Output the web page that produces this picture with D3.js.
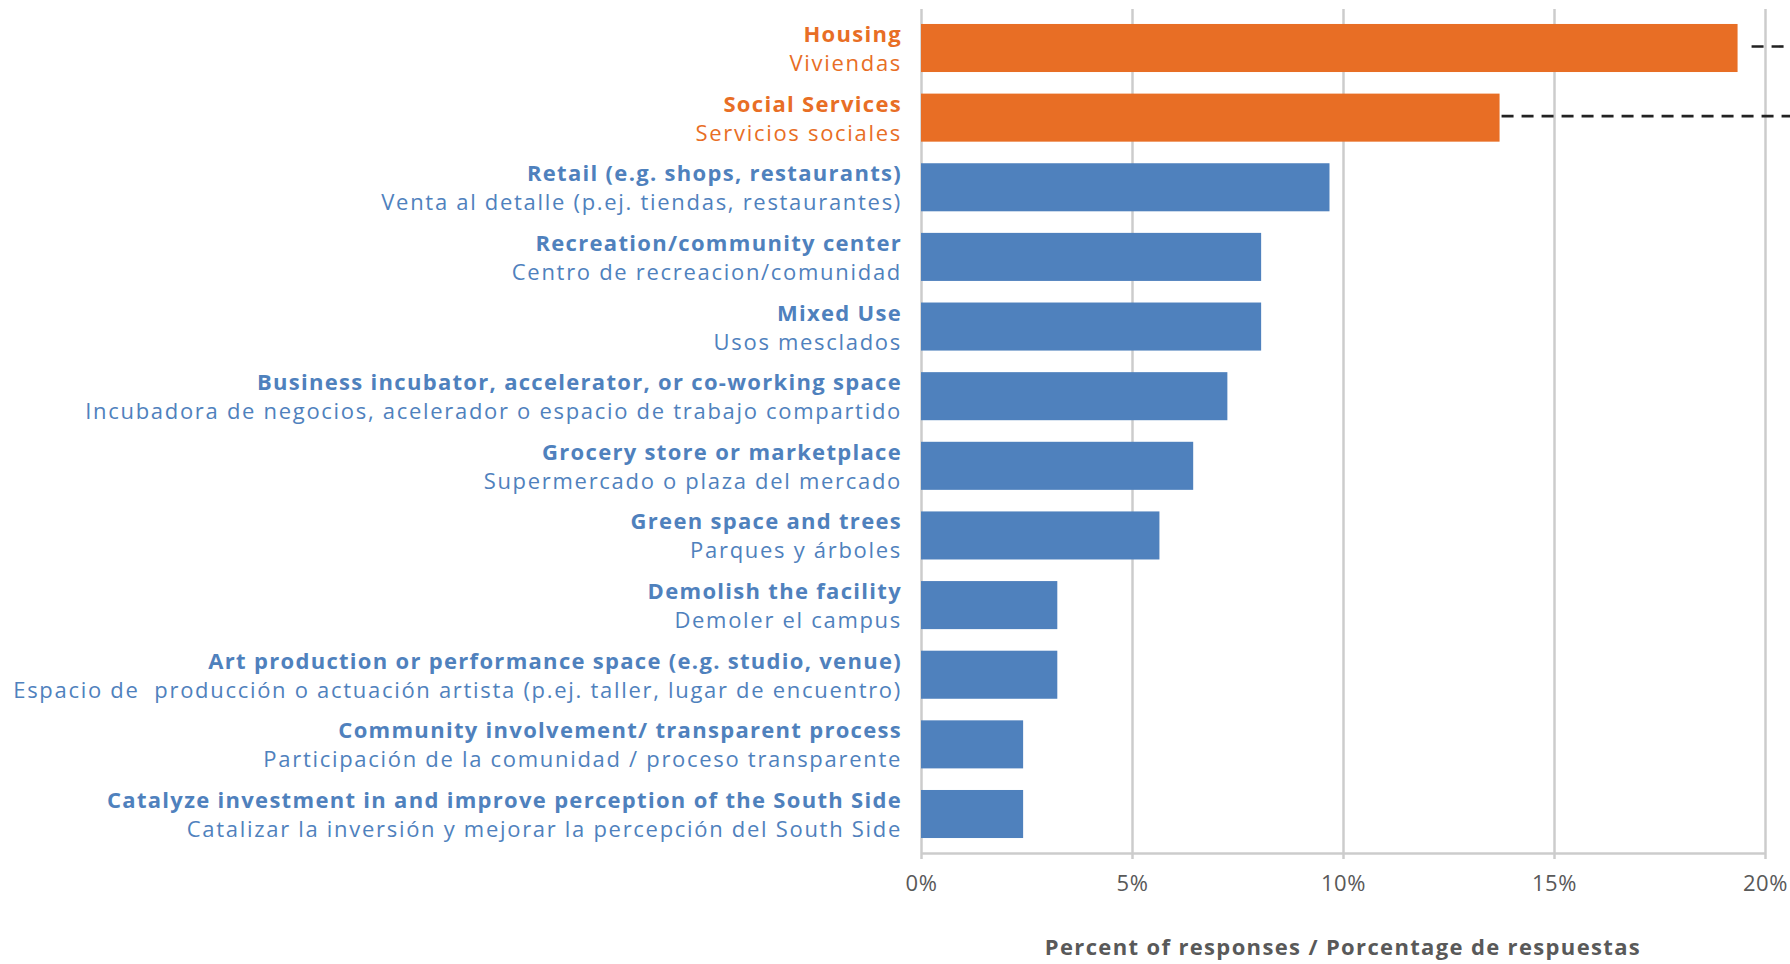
<!DOCTYPE html>
<html>
<head>
<meta charset="utf-8">
<script src="https://cdn.jsdelivr.net/npm/d3@7"></script>
<style>
  html, body { margin: 0; padding: 0; background: #fff; }
  svg { display: block; font-family: "Open Sans", sans-serif; }
  text { white-space: pre; }
</style>
</head>
<body>
<figure id="bar" style="margin:0"></figure>
<script>
// categories, English and Spanish
const labelsEn = [
  "Housing",
  "Social Services",
  "Retail (e.g. shops, restaurants)",
  "Recreation/community center",
  "Mixed Use",
  "Business incubator, accelerator, or co-working space",
  "Grocery store or marketplace",
  "Green space and trees",
  "Demolish the facility",
  "Art production or performance space (e.g. studio, venue)",
  "Community involvement/ transparent process",
  "Catalyze investment in and improve perception of the South Side"
];
const labelsEs = [
  "Viviendas",
  "Servicios sociales",
  "Venta al detalle (p.ej. tiendas, restaurantes)",
  "Centro de recreacion/comunidad",
  "Usos mesclados",
  "Incubadora de negocios, acelerador o espacio de trabajo compartido",
  "Supermercado o plaza del mercado",
  "Parques y árboles",
  "Demoler el campus",
  "Espacio de  producción o actuación artista (p.ej. taller, lugar de encuentro)",
  "Participación de la comunidad / proceso transparente",
  "Catalizar la inversión y mejorar la percepción del South Side"
];
// percent of responses
const values = [19.35, 13.71, 9.68, 8.06, 8.06, 7.26, 6.45, 5.65, 3.23, 3.23, 2.42, 2.42];
// top two are highlighted
const highlighted = [true, true, false, false, false, false, false, false, false, false, false, false];
const tickValues = [0, 5, 10, 15, 20];
const axisTitle = "Percent of responses / Porcentage de respuestas";

const width = 1790, height = 964;
const orange = "#e86e25", blue = "#4f81bd", grid = "#cccccc", gray = "#595959";
const plotTop = 9, plotBottom = 853;

const svg = d3.select("figure#bar").append("svg")
  .attr("width", width)
  .attr("height", height);

const x = d3.scaleLinear()
  .domain([0, 20])
  .range([921, 1765]);

const y = d3.scaleBand()
  .domain(d3.range(values.length))
  .range([plotTop, plotBottom])
  .paddingInner(0.31)
  .paddingOuter(0.215);

// vertical gridlines
svg.append("g")
  .attr("transform", "translate(0," + plotBottom + ")")
  .call(d3.axisBottom(x).tickValues(tickValues).tickSize(-(plotBottom - plotTop)).tickFormat(""))
  .call(g => g.select(".domain").remove())
  .call(g => g.selectAll("line").attr("stroke", grid).attr("stroke-width", 2.5));

// x axis
svg.append("g")
  .attr("transform", "translate(0," + plotBottom + ")")
  .call(d3.axisBottom(x).tickValues(tickValues).tickSize(6).tickSizeOuter(0).tickPadding(16).tickFormat(d => d + "%"))
  .call(g => g.select(".domain").attr("stroke", grid).attr("stroke-width", 2.5))
  .call(g => g.selectAll("line").attr("stroke", grid).attr("stroke-width", 2.5))
  .call(g => g.selectAll("text")
    .attr("fill", gray)
    .style("font-family", "'Open Sans', sans-serif")
    .style("font-size", "22px")
    .style("letter-spacing", "0.6px"));

// bars
svg.selectAll("rect.bar")
  .data(values)
  .enter()
  .append("rect")
  .attr("class", "bar")
  .attr("x", x(0))
  .attr("y", (d, i) => y(i))
  .attr("width", d => x(d) - x(0))
  .attr("height", y.bandwidth())
  .attr("fill", (d, i) => highlighted[i] ? orange : blue);

// dashed leaders off the highlighted bars
const leaderGap = [14, 2];
svg.selectAll("line.leader")
  .data(values.filter((d, i) => highlighted[i]))
  .enter()
  .append("line")
  .attr("class", "leader")
  .attr("x1", (d, i) => x(d) + leaderGap[i])
  .attr("x2", width)
  .attr("y1", (d, i) => y(i) + y.bandwidth() / 2 - 1.5)
  .attr("y2", (d, i) => y(i) + y.bandwidth() / 2 - 1.5)
  .attr("stroke", "#222")
  .attr("stroke-width", 2.6)
  .attr("stroke-dasharray", "12,8");

// two-line category labels
const labels = svg.selectAll("g.label")
  .data(values)
  .enter()
  .append("g")
  .attr("class", "label")
  .attr("transform", (d, i) => "translate(902," + (y(i) + y.bandwidth() / 2) + ")")
  .attr("fill", (d, i) => highlighted[i] ? orange : blue)
  .attr("text-anchor", "end")
  .style("font-size", "22px");

labels.append("text")
  .attr("y", -6)
  .attr("font-weight", 700)
  .style("letter-spacing", "1.3px")
  .text((d, i) => labelsEn[i]);

labels.append("text")
  .attr("y", 23)
  .style("letter-spacing", "1.7px")
  .text((d, i) => labelsEs[i]);

// axis title
svg.append("text")
  .attr("x", (x(0) + x(20)) / 2)
  .attr("y", 955)
  .attr("text-anchor", "middle")
  .attr("fill", gray)
  .attr("font-weight", 700)
  .style("font-size", "22px")
  .style("letter-spacing", "1.35px")
  .text(axisTitle);
</script>
</body>
</html>
